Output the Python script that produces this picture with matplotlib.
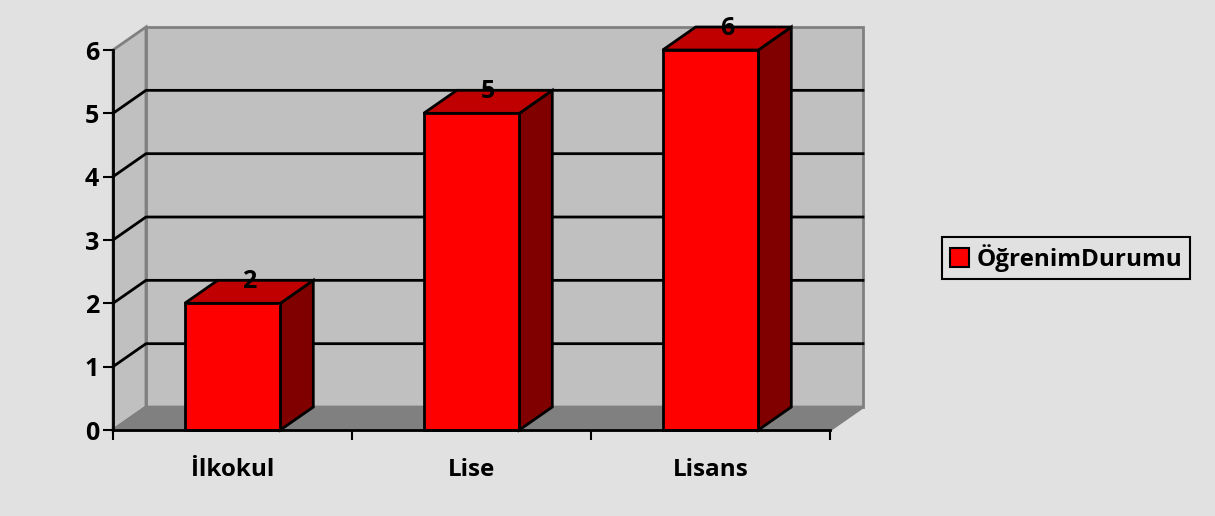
import matplotlib
matplotlib.use("Agg")
import matplotlib.pyplot as plt
from matplotlib.patches import Polygon, Patch

categories = ["İlkokul", "Lise", "Lisans"]
values = [2, 5, 6]
series_name = "ÖğrenimDurumu"
yticks = [0, 1, 2, 3, 4, 5, 6]

plt.rcParams['font.family'] = ['Open Sans', 'DejaVu Sans']

# 3d look: depth offset in data units
dx = 0.138
dy = 0.363
bw = 0.40

fig = plt.figure(figsize=(12.15, 5.16), dpi=100)
fig.patch.set_facecolor('#e1e1e1')
ax = fig.add_axes([113/1215, 86/516, 717/1215, 380/516])
ax.set_xlim(-0.5, 2.5)
ax.set_ylim(0, 6)
ax.patch.set_visible(False)

x0, x1 = -0.5, 2.5
ymax = 6

# back wall
ax.add_patch(Polygon([(x0+dx, dy), (x1+dx, dy), (x1+dx, ymax+dy), (x0+dx, ymax+dy)],
                     closed=True, fc='#c0c0c0', ec='#808080', lw=2, zorder=0, clip_on=False))
# side wall
ax.add_patch(Polygon([(x0, 0), (x0+dx, dy), (x0+dx, ymax+dy), (x0, ymax)],
                     closed=True, fc='#c0c0c0', ec='#808080', lw=2, zorder=0, clip_on=False))
# floor
ax.add_patch(Polygon([(x0, 0), (x1, 0), (x1+dx, dy), (x0+dx, dy)],
                     closed=True, fc='#808080', ec='#808080', lw=2, zorder=0, clip_on=False))

# gridlines
for k in yticks[1:-1]:
    ax.plot([x0, x0+dx, x1+dx], [k, k+dy, k+dy], color='black', lw=2, zorder=1, clip_on=False)

# bars
for i, v in enumerate(values):
    l, r = i - bw/2, i + bw/2
    ax.add_patch(Polygon([(r, 0), (r+dx, dy), (r+dx, v+dy), (r, v)],
                         closed=True, fc='#800000', ec='black', lw=2, zorder=3, clip_on=False))
    ax.add_patch(Polygon([(l, v), (r, v), (r+dx, v+dy), (l+dx, v+dy)],
                         closed=True, fc='#c00000', ec='black', lw=2, zorder=3, clip_on=False))
    ax.add_patch(Polygon([(l, 0), (r, 0), (r, v), (l, v)],
                         closed=True, fc='#ff0000', ec='black', lw=2, zorder=4, clip_on=False))
    ax.text(i + dx/2, v + dy - 0.02, str(v), ha='center', va='center', fontsize=18,
            fontweight='bold', zorder=5)

# axes
for s in ['top', 'right']:
    ax.spines[s].set_visible(False)
for s in ['left', 'bottom']:
    ax.spines[s].set_linewidth(2)
    ax.spines[s].set_zorder(6)
ax.set_yticks(yticks)
ax.set_yticklabels([str(t) for t in yticks], fontsize=18, fontweight='bold')
ax.set_xticks([-0.5, 0.5, 1.5, 2.5])
ax.set_xticklabels([])
ax.set_xticks([0, 1, 2], minor=True)
ax.set_xticklabels(categories, minor=True, fontsize=17.5, fontweight='bold')
ax.tick_params(axis='both', which='major', direction='out', length=7, width=1.5)
ax.tick_params(axis='y', pad=3)
ax.tick_params(axis='x', which='minor', length=0, pad=20)

leg = fig.legend(handles=[Patch(fc='#ff0000', ec='black', lw=1.5, label=series_name)],
                 loc='center', bbox_to_anchor=(1066/1215, 1 - 258/516),
                 prop={'weight': 'bold', 'size': 17.5}, frameon=True, fancybox=False,
                 framealpha=1, handlelength=0.8, handleheight=0.8, handletextpad=0.3,
                 borderpad=0.3)
leg.get_frame().set_edgecolor('black')
leg.get_frame().set_linewidth(1.5)
leg.get_frame().set_facecolor('none')

fig.savefig('out.png', dpi=100, facecolor=fig.get_facecolor())
